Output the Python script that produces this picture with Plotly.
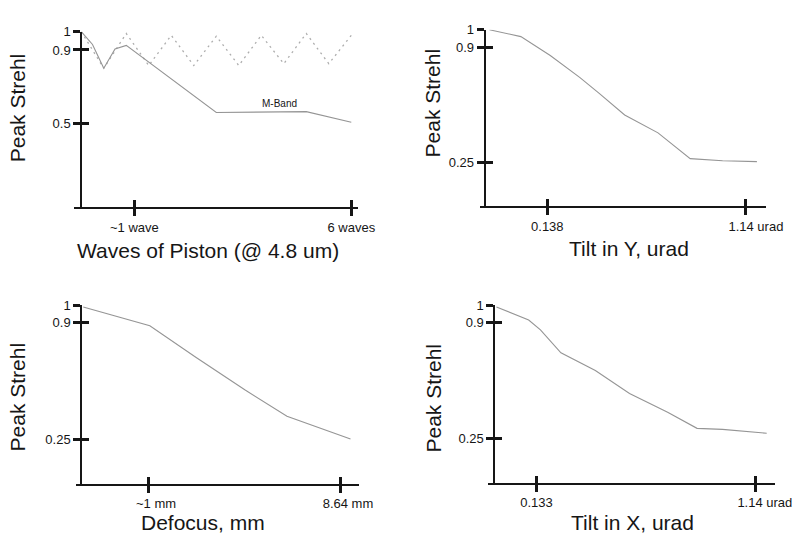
import plotly.graph_objects as go

# ---------------- data ----------------
# Panel 1: Waves of Piston (@ 4.8 um)
piston_mband_x = [0, 0.25, 0.5, 0.75, 1.0, 3.0, 5.0, 6.0]
piston_mband_y = [1.0, 0.93, 0.80, 0.905, 0.925, 0.558, 0.563, 0.505]
piston_mono_x = [0, 0.5, 1, 1.5, 2, 2.5, 3, 3.5, 4, 4.5, 5, 5.5, 6]
piston_mono_y = [1.0, 0.80, 0.99, 0.815, 0.98, 0.815, 0.975, 0.815, 0.98, 0.825, 0.99, 0.825, 0.98]
piston_xticks = [1.18, 6]
piston_xticktext = ["~1 wave", "6 waves"]
piston_yticks = [1, 0.9, 0.5]
piston_yticktext = ["1", "0.9", "0.5"]

# Panel 2: Tilt in Y, urad
tilty_x = [-0.155, 0.004, 0.153, 0.302, 0.401, 0.530, 0.699, 0.862, 1.026, 1.200]
tilty_y = [1.0, 0.961, 0.854, 0.730, 0.640, 0.517, 0.416, 0.270, 0.258, 0.253]
tilty_xticks = [0.138, 1.14]
tilty_xticktext = ["0.138", "\u00a0" * 6 + "1.14 urad"]

# Panel 3: Defocus, mm
defocus_x = [-1.61, 1.04, 2.87, 4.82, 6.50, 9.03]
defocus_y = [0.989, 0.884, 0.708, 0.526, 0.377, 0.25]
defocus_xticks = [1, 8.64]
defocus_xticktext = ["\u00a0" * 4 + "~1 mm", "\u00a0" * 4 + "8.64 mm"]

# Panel 4: Tilt in X, urad
tiltx_x = [-0.051, 0.097, 0.151, 0.245, 0.403, 0.560, 0.735, 0.870, 0.987, 1.19]
tiltx_y = [0.989, 0.916, 0.860, 0.731, 0.631, 0.502, 0.396, 0.306, 0.300, 0.278]
tiltx_xticks = [0.133, 1.14]
tiltx_xticktext = ["0.133", "\u00a0" * 5 + "1.14 urad"]

tilt_yticks = [1, 0.9, 0.25]
tilt_yticktext = ["1", "0.9", "0.25"]

# ---------------- figure ----------------
W, H = 812, 535
INK = "#161616"
CURVE = "#959595"
FONT = "Liberation Sans, Arial, sans-serif"


def fx(px):
    return px / W


def fy(py):
    return 1 - py / H


fig = go.Figure()

line_style = dict(color=CURVE, width=1.1)
fig.add_trace(go.Scatter(x=piston_mono_x, y=piston_mono_y, mode="lines",
                         line=dict(color="#adadad", width=1.3, dash="2px,4px"),
                         xaxis="x", yaxis="y", cliponaxis=False, showlegend=False,
                         hoverinfo="skip"))
fig.add_trace(go.Scatter(x=piston_mband_x, y=piston_mband_y, mode="lines",
                         line=line_style, xaxis="x", yaxis="y",
                         cliponaxis=False, showlegend=False))
fig.add_trace(go.Scatter(x=tilty_x, y=tilty_y, mode="lines", line=line_style,
                         xaxis="x2", yaxis="y2", cliponaxis=False, showlegend=False))
fig.add_trace(go.Scatter(x=defocus_x, y=defocus_y, mode="lines", line=line_style,
                         xaxis="x3", yaxis="y3", cliponaxis=False, showlegend=False))
fig.add_trace(go.Scatter(x=tiltx_x, y=tiltx_y, mode="lines", line=line_style,
                         xaxis="x4", yaxis="y4", cliponaxis=False, showlegend=False))

# panel geometry in pixels:
#   xline = (left, right) ends of the x-axis line, yline = x pixel of the y-axis,
#   top/bottom = pixel rows of the y-axis ends, cal = two (pixel, value) pairs for the x scale
panels = [
    dict(xline=(76, 366), yline=83, top=25, bottom=203, cal=((83, 0.0), (358.8, 6.0)),
         yr=[0.04, 1.0], xt=piston_xticks, xtt=piston_xticktext,
         yt=piston_yticks, ytt=piston_yticktext),
    dict(xline=(490, 782), yline=495, top=23, bottom=202, cal=((559, 0.138), (761, 1.14)),
         yr=[0, 1.0], xt=tilty_xticks, xtt=tilty_xticktext,
         yt=tilt_yticks, ytt=tilt_yticktext),
    dict(xline=(78, 367), yline=83, top=302, bottom=483, cal=((152, 1.0), (348, 8.64)),
         yr=[0, 1.0], xt=defocus_xticks, xtt=defocus_xticktext,
         yt=tilt_yticks, ytt=tilt_yticktext),
    dict(xline=(498, 792), yline=505, top=302, bottom=482, cal=((548, 0.133), (772, 1.14)),
         yr=[0, 1.0], xt=tiltx_xticks, xtt=tiltx_xticktext,
         yt=tilt_yticks, ytt=tilt_yticktext),
]

layout = dict(
    width=W, height=H, autosize=False, margin=dict(l=0, r=0, t=0, b=0, pad=0),
    paper_bgcolor="white", plot_bgcolor="white",
    font=dict(family=FONT, color=INK), showlegend=False,
)

common_axis = dict(showgrid=False, zeroline=False, tickmode="array",
                   tickcolor=INK, tickwidth=2.5, ticklen=7, fixedrange=True)

for i, p in enumerate(panels):
    n = i + 1
    m = i + 5
    (p0, v0), (p1, v1) = p["cal"]
    k = (v1 - v0) / (p1 - p0)
    xl, xr_ = p["xline"]
    xrange_ = [v0 + (xl - p0) * k, v0 + (xr_ - p0) * k]
    xd = [fx(xl), fx(xr_)]
    yd = [fy(p["bottom"]), fy(p["top"])]
    ypos = fx(p["yline"])
    xs = "" if n == 1 else str(n)
    layout[f"xaxis{xs}"] = dict(common_axis, domain=xd, range=xrange_, anchor=f"y{xs}",
                                showline=True, linecolor=INK, linewidth=2,
                                ticks="outside", tickvals=p["xt"], ticktext=p["xtt"],
                                tickfont=dict(size=13, color=INK))
    layout[f"yaxis{xs}"] = dict(common_axis, domain=yd, range=p["yr"], anchor="free",
                                position=ypos,
                                showline=True, linecolor=INK, linewidth=2,
                                ticks="outside", tickvals=p["yt"], ticktext=p["ytt"],
                                tickfont=dict(size=13, color=INK))
    # overlay axes give the ticks that cross the axis line
    layout[f"xaxis{m}"] = dict(common_axis, overlaying=f"x{xs}", anchor=f"y{xs}",
                               range=xrange_, side="bottom", showline=False,
                               ticks="inside", tickvals=p["xt"], showticklabels=False)
    layout[f"yaxis{m}"] = dict(common_axis, overlaying=f"y{xs}", anchor="free",
                               position=ypos,
                               range=p["yr"], side="left", showline=False,
                               ticks="inside", tickvals=p["yt"], showticklabels=False)
    # invisible traces so the overlay axes are drawn
    fig.add_trace(go.Scatter(x=xrange_, y=p["yr"], mode="none", xaxis=f"x{m}", yaxis=f"y{xs}",
                             showlegend=False, hoverinfo="skip"))
    fig.add_trace(go.Scatter(x=xrange_, y=p["yr"], mode="none", xaxis=f"x{xs}", yaxis=f"y{m}",
                             showlegend=False, hoverinfo="skip"))

fig.update_layout(**layout)

# titles (as text annotations placed like the reference)
titles = [
    ("Waves of Piston (@ 4.8 um)", 212, 247),
    ("Tilt in Y, urad", 642, 245),
    ("Defocus, mm", 207, 522),
    ("Tilt in X, urad", 646, 522),
]
for txt, cx, cy in titles:
    fig.add_annotation(text=txt, x=fx(cx), y=fy(cy), xref="paper", yref="paper",
                       xanchor="center", yanchor="middle", showarrow=False,
                       font=dict(size=21, family=FONT, color=INK))

ylabels = [(18, 102), (442, 97), (18, 395), (443, 396)]
for cx, cy in ylabels:
    fig.add_annotation(text="Peak Strehl", x=fx(cx), y=fy(cy), xref="paper", yref="paper",
                       xanchor="center", yanchor="middle", showarrow=False, textangle=-90,
                       font=dict(size=21, family=FONT, color=INK))

# curve labels in the piston panel
fig.add_annotation(text="M-Band", x=4.41, y=0.61, xref="x", yref="y", showarrow=False,
                   xanchor="center", yanchor="middle", font=dict(size=10, family=FONT, color=INK))
fig.add_annotation(text="(Monochromatic)", x=3.69, y=1.045, xref="x", yref="y", showarrow=False,
                   xanchor="center", yanchor="middle", font=dict(size=10, family=FONT, color="#333"))

# remove the browser's default page margin so the figure sits at the top-left corner
fig.write_html(
    "out.html",
    config={"displayModeBar": False},
    post_script=("document.documentElement.style.overflow='hidden';"
                 "document.body.style.margin='0';"
                 "document.body.style.overflow='hidden';"),
)
